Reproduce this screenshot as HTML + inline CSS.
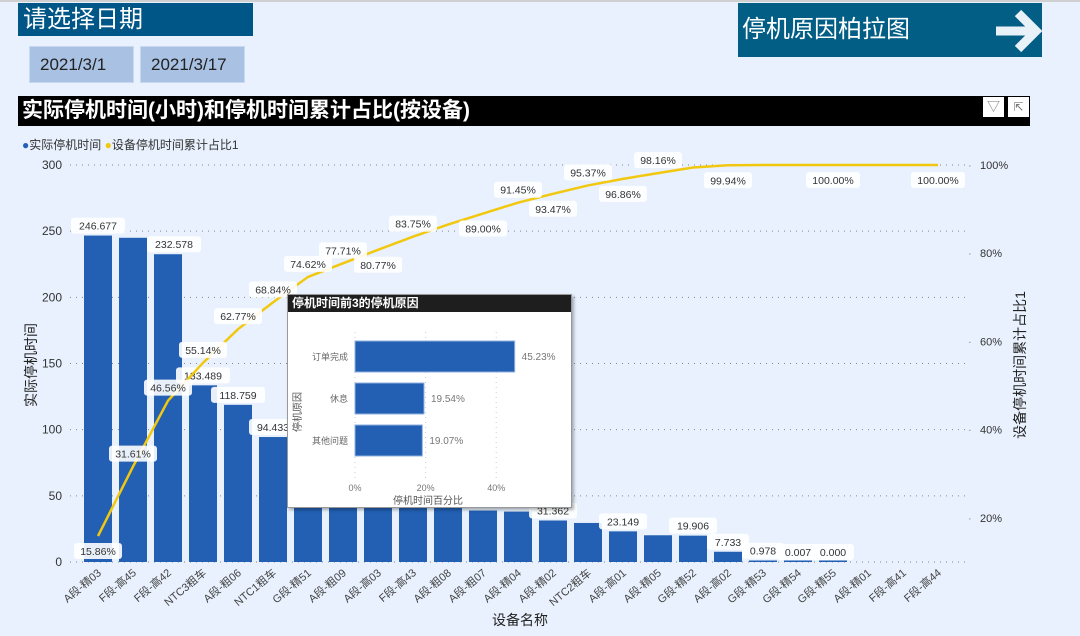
<!DOCTYPE html>
<html><head><meta charset="utf-8">
<style>
body{margin:0;width:1080px;height:636px;overflow:hidden;background:#e8f1fd;font-family:"Liberation Sans","Noto Sans CJK SC",sans-serif;}
.abs{position:absolute}
</style></head>
<body>
<div class="abs" style="left:0;top:0;width:1080px;height:2px;background:#d0d0d0"></div>
<div class="abs" style="left:18px;top:3px;width:235px;height:33px;background:#005687;color:#fff;font-size:24px;line-height:33px;padding-left:5px;box-sizing:border-box">请选择日期</div>
<div class="abs" style="left:29px;top:46px;width:105px;height:37px;background:#a9c1e2;border:1px solid #c8d8ee;box-sizing:border-box;font-size:17px;line-height:35px;padding-left:10px;color:#222">2021/3/1</div>
<div class="abs" style="left:140px;top:46px;width:105px;height:37px;background:#a9c1e2;border:1px solid #c8d8ee;box-sizing:border-box;font-size:17px;line-height:35px;padding-left:10px;color:#222">2021/3/17</div>
<div class="abs" style="left:738px;top:3px;width:304px;height:54px;background:#035e86;color:#fff;font-size:24px;line-height:54px;padding-left:4px;box-sizing:border-box">停机原因柏拉图
<svg class="abs" style="left:250px;top:6px" width="60" height="44"><path d="M8 22 H48 M30 4 L48 22 L30 40" stroke="#e8f0f8" stroke-width="9" fill="none"/></svg></div>
<div class="abs" style="left:18px;top:96px;width:1012px;height:30px;background:#000;color:#fff;font-size:21px;font-weight:bold;line-height:30px;padding-left:4px;box-sizing:border-box">实际停机时间(小时)和停机时间累计占比(按设备)</div>
<div class="abs" style="left:983px;top:97px;width:21px;height:20px;background:#fff;font-size:13px;text-align:center;line-height:20px;color:#777">▽</div>
<div class="abs" style="left:1008px;top:97px;width:21px;height:20px;background:#fff;font-size:12px;text-align:center;line-height:20px;color:#777">⇱</div>
<div class="abs" style="left:22px;top:136px;font-size:12px;color:#333">
<span><span style="color:#2360b4">●</span>实际停机时间</span>
<span><span style="color:#f2c80f">●</span>设备停机时间累计占比1</span></div>

<svg id="chart" class="abs" style="left:0;top:0" width="1080" height="636"></svg>

<div class="abs" style="left:287px;top:294px;width:285px;height:214px;background:#fff;border:1px solid #999;box-shadow:2px 2px 3px rgba(0,0,0,.3);box-sizing:border-box">
<div style="background:#1e1e1e;color:#fff;font-size:12px;font-weight:bold;height:17px;line-height:17px;padding-left:4px">停机时间前3的停机原因</div>
<svg id="tip" width="283" height="195"></svg>
</div>

<script>
const categories=["A段-精03","F段-高45","F段-高42","NTC3粗车","A段-粗06","NTC1粗车","G段-精51","A段-粗09","A段-高03","F段-高43","A段-粗08","A段-粗07","A段-精04","A段-精02","NTC2粗车","A段-高01","A段-精05","G段-精52","A段-高02","G段-精53","G段-精54","G段-精55","A段-精01","F段-高41","F段-高44"];
const downtime=[246.677,245.0,232.578,133.489,118.759,94.433,89.9,48.0,47.6,46.3,42.8,38.9,38.1,31.362,29.5,23.149,20.2,19.906,7.733,0.978,0.007,0.000,0,0,0];
const valueLabels=["246.677","","232.578","133.489","118.759","94.433","","","","","","","","31.362","","23.149","","19.906","7.733","0.978","0.007","0.000","","",""];
const cumulative=[15.86,31.61,46.56,55.14,62.77,68.84,74.62,77.71,80.77,83.75,86.5,89.00,91.45,93.47,95.37,96.86,98.16,99.44,99.94,100,100,100,100,100,100];
const pctLabels=["15.86%","31.61%","46.56%","55.14%","62.77%","68.84%","74.62%","77.71%","80.77%","83.75%","","89.00%","91.45%","93.47%","95.37%","96.86%","98.16%","","99.94%","","","100.00%","","","100.00%"];
const leftTicks=[0,50,100,150,200,250,300];
const rightTicks=[20,40,60,80,100];
const NS="http://www.w3.org/2000/svg";
const svg=document.getElementById('chart');
const xS=i=>98+i*35;
const yL=v=>562-v*(397/300);
const yR=p=>606-p*4.41;
function el(t,a,p){const e=document.createElementNS(NS,t);for(const k in a)e.setAttribute(k,a[k]);(p||svg).appendChild(e);return e;}
leftTicks.forEach(v=>{
 const g=el('line',{x1:70,x2:970,y1:yL(v),y2:yL(v),stroke:'#888','stroke-dasharray':'1 5'});
 
 
 const t=el('text',{x:62,y:yL(v)+4,'text-anchor':'end','font-size':12,fill:'#333'});t.textContent=v;
 
 
});
rightTicks.forEach(p=>{
 const t=el('text',{x:980,y:yR(p)+4,'font-size':11,fill:'#333'});t.textContent=p+'%';
 
 
 el('text',{x:968,y:yR(p)+4,'font-size':11,fill:'#888'}).textContent='·';
});
const yt=el('text',{x:36,y:365,'font-size':14,fill:'#222','text-anchor':'middle',transform:'rotate(-90 36 365)'});yt.textContent='实际停机时间';


const yt2=el('text',{x:1025,y:365,'font-size':14,fill:'#222','text-anchor':'middle',transform:'rotate(-90 1025 365)'});yt2.textContent='设备停机时间累计占比1';


const xt=el('text',{x:520,y:625,'font-size':14,fill:'#222','text-anchor':'middle'});xt.textContent='设备名称';


categories.forEach((c,i)=>{
 const h=Math.max(562-yL(downtime[i]),i<22?1.5:0);
 const b=el('rect',{x:xS(i)-14,y:562-h,width:28,height:h,fill:'#235fb3'});
 
 
 const t=el('text',{x:xS(i)+4,y:574,'font-size':11,fill:'#444','text-anchor':'end',transform:`rotate(-40 ${xS(i)+4} 574)`});t.textContent=c;
 
 
});
function lab(x,y,s,name){
 const w=s.length*6+12;
 const r=el('rect',{x:x-w/2,y:y-8,width:w,height:16,rx:3,fill:'#fff',opacity:0.9});
 
 
 const t=el('text',{x:x,y:y+4,'font-size':10.5,fill:'#333','text-anchor':'middle'});t.textContent=s;
 
 
}
valueLabels.forEach((s,i)=>{if(s)lab(xS(i)+(i==2?6:0),yL(downtime[i])-10,s,'bar-value-label');});
let d='';cumulative.forEach((p,i)=>{d+=(i?'L':'M')+xS(i)+' '+yR(p);});
const ln=el('path',{d:d,stroke:'#f2c80f','stroke-width':2.5,fill:'none'});


const below=[1,0,0,0,0,0,0,0,1,0,0,1,0,1,0,1,0,0,1,0,0,1,0,0,1];
pctLabels.forEach((s,i)=>{if(s)lab(xS(i),yR(cumulative[i])+(below[i]?15:-13),s,'cumulative-label');});
const tip=document.getElementById('tip');
const reasons=["订单完成","休息","其他问题"];
const reasonPct=[45.23,19.54,19.07];
const tipTicks=[0,20,40];
const xT=p=>67+p*3.53;
tipTicks.forEach(p=>{
 el('line',{x1:xT(p),x2:xT(p),y1:20,y2:170,stroke:'#ccc','stroke-dasharray':'1 4'},tip);
 const t=el('text',{x:xT(p),y:179,'font-size':9,fill:'#777','text-anchor':'middle'},tip);t.textContent=p+'%';
 
 
});
reasons.forEach((r,i)=>{
 const y=29+i*42;
 const b=el('rect',{x:xT(0),y:y,width:xT(reasonPct[i])-xT(0),height:31,fill:'#235fb3',stroke:'#8fb0e0'},tip);
 
 
 const t=el('text',{x:60,y:y+19,'font-size':9,fill:'#666','text-anchor':'end'},tip);t.textContent=r;
 
 
 const v=el('text',{x:xT(reasonPct[i])+7,y:y+19,'font-size':10,fill:'#777'},tip);v.textContent=reasonPct[i].toFixed(2)+'%';
 
 
});
const ta=el('text',{x:140,y:192,'font-size':10,fill:'#555','text-anchor':'middle'},tip);ta.textContent='停机时间百分比';


const tb=el('text',{x:13,y:100,'font-size':10,fill:'#555','text-anchor':'middle',transform:'rotate(-90 13 100)'},tip);tb.textContent='停机原因';


</script>
</body></html>
